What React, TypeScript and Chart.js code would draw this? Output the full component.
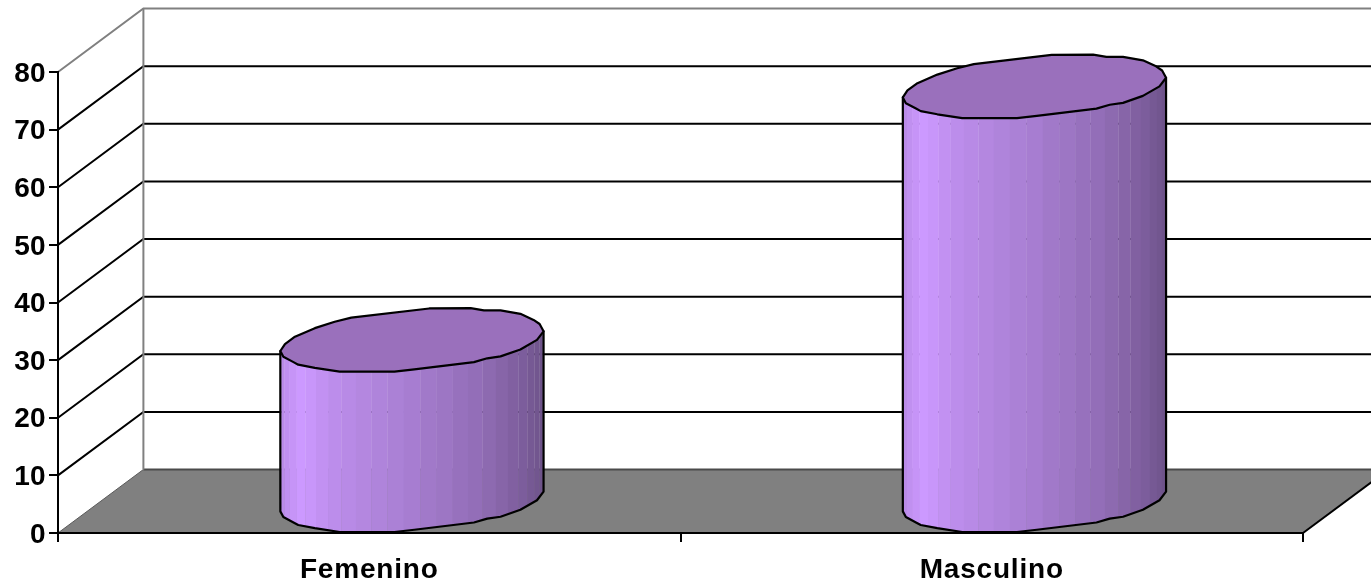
import React, { useEffect, useRef } from "react";
import { Chart, registerables } from "chart.js";

Chart.register(...registerables);

const categories = ["Femenino", "Masculino"];
const seriesValues = [28, 72];
const yTicks = [0, 10, 20, 30, 40, 50, 60, 70, 80];

// Projection of the chart depth onto the screen.
const DEPTH_X = 85.4;
const DEPTH_Y = -63.5;

// Faceted cap outline, as fractions of the ellipse half extents.
const CAP_OUTLINE: [number, number][] = [
  [-1.0, 0.35], [-0.977, 0.53], [-0.9, 0.7], [-0.864, 0.78], [-0.738, 0.88],
  [-0.549, 1.0], [-0.133, 1.0], [0.018, 0.93], [0.471, 0.7], [0.572, 0.58],
  [0.673, 0.52], [0.824, 0.3], [0.95, 0.0], [1.0, -0.27], [0.97, -0.5],
  [0.924, -0.63], [0.824, -0.82], [0.673, -0.93], [0.547, -0.93], [0.446, -1.0],
  [0.131, -0.99], [-0.461, -0.7], [-0.587, -0.57], [-0.738, -0.37], [-0.889, -0.1],
  [-0.965, 0.13],
];
const LOWER_POINTS = 14;

// Brightness of each vertical facet of the cylinder body, left to right.
const FACET_SHADES = [
  0.88, 0.91, 0.94, 0.97, 1.0, 0.98, 0.95, 0.92, 0.9, 0.88, 0.86, 0.84, 0.82,
  0.79, 0.77, 0.74, 0.72, 0.69, 0.66, 0.63, 0.61, 0.58, 0.56, 0.54, 0.52,
];
const FACET_STEP_DEG = 7.2;
const BODY_RGB = [204, 153, 255];
const CAP_COLOR = "#9A70BC";

const wallsPlugin = {
  id: "walls",
  beforeDraw(chart: any) {
    const { ctx, chartArea: a, scales } = chart;
    const y = scales.y;
    const x0 = a.left;
    const x1 = a.right;
    const bottom = y.getPixelForValue(0);
    const top = y.getPixelForValue(yTicks[yTicks.length - 1]);
    ctx.save();

    // Floor
    ctx.beginPath();
    ctx.moveTo(x0, bottom);
    ctx.lineTo(x0 + DEPTH_X, bottom + DEPTH_Y);
    ctx.lineTo(x1 + DEPTH_X, bottom + DEPTH_Y);
    ctx.lineTo(x1, bottom);
    ctx.closePath();
    ctx.fillStyle = "#808080";
    ctx.fill();
    ctx.strokeStyle = "#000000";
    ctx.lineWidth = 2;
    ctx.beginPath();
    ctx.moveTo(x1, bottom);
    ctx.lineTo(x1 + DEPTH_X, bottom + DEPTH_Y);
    ctx.stroke();
    ctx.strokeStyle = "#5a5a5a";
    ctx.lineWidth = 1;
    ctx.beginPath();
    ctx.moveTo(x0, bottom);
    ctx.lineTo(x0 + DEPTH_X, bottom + DEPTH_Y);
    ctx.stroke();

    // Gridlines along the side wall and the back wall
    for (const v of yTicks) {
      const py = y.getPixelForValue(v);
      const isTop = v === yTicks[yTicks.length - 1];
      if (v === 0) continue;
      ctx.strokeStyle = isTop ? "#808080" : "#000000";
      ctx.lineWidth = 2;
      ctx.beginPath();
      ctx.moveTo(x0, py);
      ctx.lineTo(x0 + DEPTH_X, py + DEPTH_Y);
      ctx.lineTo(x1 + DEPTH_X, py + DEPTH_Y);
      ctx.stroke();
    }

    // Back edge of the floor
    ctx.strokeStyle = "#4a4a4a";
    ctx.lineWidth = 2;
    ctx.beginPath();
    ctx.moveTo(x0 + DEPTH_X, bottom + DEPTH_Y);
    ctx.lineTo(x1 + DEPTH_X, bottom + DEPTH_Y);
    ctx.stroke();

    // Vertical corner of the back wall
    ctx.strokeStyle = "#808080";
    ctx.lineWidth = 2;
    ctx.beginPath();
    ctx.moveTo(x0 + DEPTH_X, bottom + DEPTH_Y);
    ctx.lineTo(x0 + DEPTH_X, top + DEPTH_Y);
    ctx.stroke();
    ctx.restore();
  },
};

function tracePoints(ctx: any, pts: [number, number][], cx: number, cy: number, rx: number, ry: number) {
  pts.forEach(([u, v]) => {
    ctx.lineTo(cx + u * rx, cy + v * ry);
  });
}

const cylindersPlugin = {
  id: "cylinders",
  afterDatasetsDraw(chart: any) {
    const { ctx } = chart;
    const meta = chart.getDatasetMeta(0);
    const rx = Math.hypot(meta.data[0].width / 2, DEPTH_X / 2);
    const ry = -DEPTH_Y / 2;
    const lower = CAP_OUTLINE.slice(0, LOWER_POINTS);

    meta.data.forEach((bar: any) => {
      const cx = bar.x + DEPTH_X / 2;
      const topY = bar.y + DEPTH_Y / 2;
      const baseY = bar.base + DEPTH_Y / 2;
      const leftY = ry * CAP_OUTLINE[0][1];
      const rightY = ry * lower[lower.length - 1][1];

      const bodyPath = () => {
        ctx.beginPath();
        ctx.moveTo(cx - rx, topY + leftY);
        tracePoints(ctx, lower, cx, baseY, rx, ry);
        ctx.lineTo(cx + rx, topY + rightY);
        ctx.closePath();
      };

      ctx.save();
      bodyPath();
      ctx.clip();
      // Facets nearly abut, leaving only faint hairline seams between them.
      FACET_SHADES.forEach((shade, i) => {
        const a0 = Math.PI - (i * FACET_STEP_DEG * Math.PI) / 180;
        const a1 = i === FACET_SHADES.length - 1 ? 0 : Math.PI - ((i + 1) * FACET_STEP_DEG * Math.PI) / 180;
        const xa = cx + rx * Math.cos(a0);
        const xb = cx + rx * Math.cos(a1);
        const [r, g, b] = BODY_RGB.map((c) => Math.round(c * shade));
        ctx.fillStyle = `rgb(${r},${g},${b})`;
        ctx.fillRect(xa, topY - ry, xb - xa + 0.3, baseY - topY + 2 * ry + 2);
      });
      ctx.restore();

      ctx.strokeStyle = "#000000";
      ctx.lineWidth = 2.2;
      ctx.lineJoin = "round";
      bodyPath();
      ctx.stroke();

      ctx.beginPath();
      tracePoints(ctx, CAP_OUTLINE, cx, topY, rx, ry);
      ctx.closePath();
      ctx.fillStyle = CAP_COLOR;
      ctx.fill();
      ctx.stroke();
    });

    // The category labels are drawn next and are set a little wider than the face's spacing.
    ctx.letterSpacing = "0.8px";
  },
  afterDraw(chart: any) {
    chart.ctx.letterSpacing = "0px";
  },
};

export default function App() {
  const canvasRef = useRef<HTMLCanvasElement>(null);

  useEffect(() => {
    document.body.style.margin = "0";
    const font = { family: "'Liberation Sans', Arial, sans-serif", size: 28, weight: "bold" as const };
    const chart = new Chart(canvasRef.current!, {
      type: "bar",
      data: {
        labels: categories,
        datasets: [
          {
            data: seriesValues,
            backgroundColor: "rgba(0,0,0,0)",
            borderWidth: 0,
            categoryPercentage: 1,
            barPercentage: 0.4,
          },
        ],
      },
      options: {
        responsive: false,
        animation: false,
        layout: { padding: { top: 72, right: 68, left: 0, bottom: 0 } },
        plugins: { legend: { display: false }, tooltip: { enabled: false } },
        scales: {
          x: {
            type: "category",
            grid: { drawOnChartArea: false, color: "#000000", lineWidth: 2, tickLength: 9, offset: true },
            border: { color: "#000000", width: 2 },
            ticks: { color: "#000000", font, padding: 11, maxRotation: 0, z: 1 },
            afterFit: (s: any) => {
              s.height = 52;
            },
          },
          y: {
            min: 0,
            max: 80,
            afterBuildTicks: (s: any) => {
              s.ticks = yTicks.map((value) => ({ value }));
            },
            grid: { drawOnChartArea: false, color: "#000000", lineWidth: 2, tickLength: 9 },
            border: { color: "#000000", width: 2 },
            ticks: { color: "#000000", font, padding: 3.5, labelOffset: 2 },
            afterFit: (s: any) => {
              s.width = 58;
            },
          },
        },
      },
      plugins: [wallsPlugin, cylindersPlugin],
    });
    return () => chart.destroy();
  }, []);

  return <canvas ref={canvasRef} width={1371} height={585} style={{ display: "block" }} />;
}
